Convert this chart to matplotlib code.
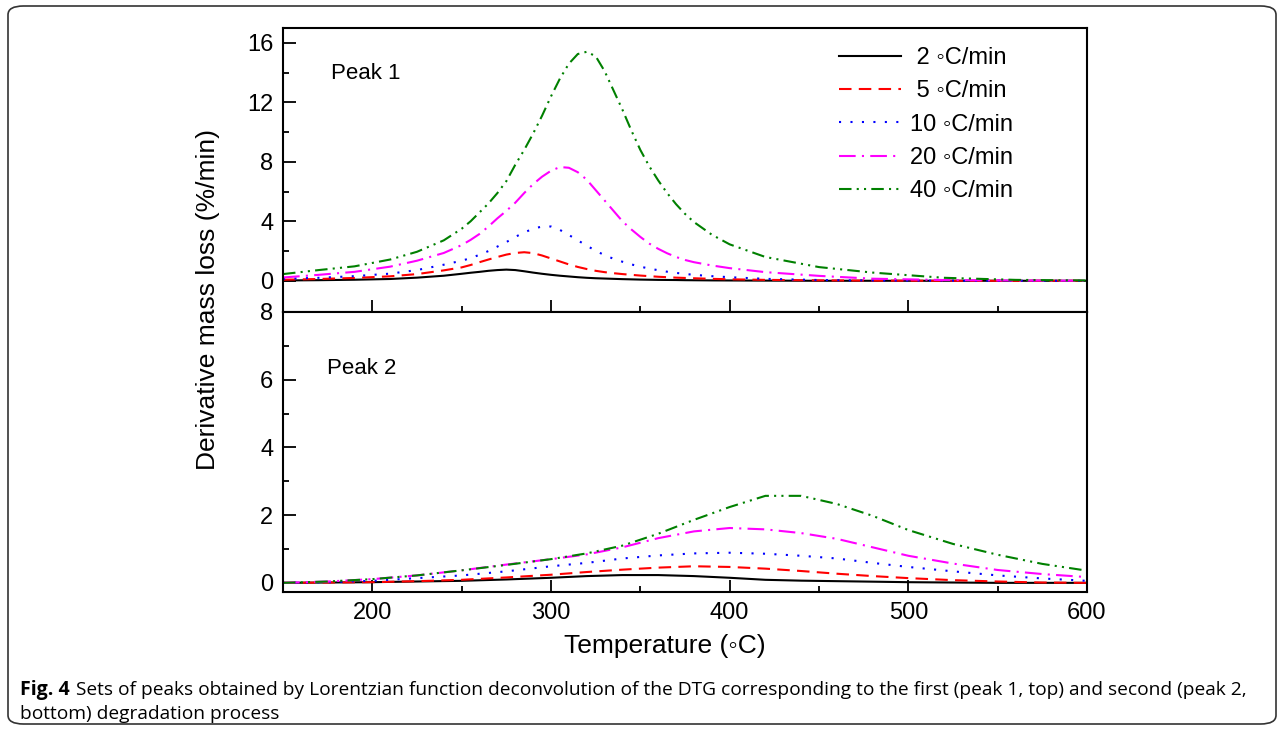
from matplotlib import pyplot as plt
from matplotlib.patches import FancyBboxPatch

# temperature grid (deg C) for each panel
temp_top = [150, 170, 190, 210, 225, 240,
            250, 255, 260, 265, 270, 275, 280, 285, 290, 295, 300, 305, 310, 315,
            320, 325, 330, 335, 340, 345, 350, 355, 360, 365, 370, 375, 380,
            390, 400, 420, 450, 480, 520, 560, 600]
temp_bottom = [150, 175, 200, 225, 250, 275, 300, 320, 340, 360, 380, 400, 420, 440,
               460, 480, 500, 525, 550, 575, 600]

# peak 1 (top panel)
p1_2 = [0.02, 0.04, 0.07, 0.12, 0.21, 0.34,
        0.47, 0.54, 0.60, 0.67, 0.72, 0.75, 0.72, 0.64, 0.55, 0.47, 0.40, 0.34, 0.29, 0.24,
        0.20, 0.17, 0.15, 0.13, 0.11, 0.095, 0.08, 0.07, 0.06, 0.055, 0.05, 0.04, 0.035,
        0.025, 0.02, 0.01, 0.0, 0.0, 0.0, 0.0, 0.0]
p1_5 = [0.07, 0.12, 0.19, 0.30, 0.45, 0.70,
        0.90, 1.06, 1.25, 1.43, 1.60, 1.76, 1.87, 1.92, 1.86, 1.70, 1.50, 1.30, 1.10, 0.93,
        0.79, 0.67, 0.58, 0.51, 0.45, 0.40, 0.35, 0.31, 0.27, 0.24, 0.21, 0.19, 0.17,
        0.13, 0.10, 0.06, 0.03, 0.01, 0.0, 0.0, 0.0]
p1_10 = [0.13, 0.20, 0.31, 0.48, 0.72, 1.08,
         1.35, 1.52, 1.75, 2.00, 2.30, 2.60, 2.95, 3.25, 3.50, 3.65, 3.65, 3.42, 3.08, 2.72,
         2.36, 2.02, 1.72, 1.48, 1.28, 1.10, 0.95, 0.82, 0.71, 0.61, 0.53, 0.46, 0.40,
         0.31, 0.24, 0.13, 0.05, 0.02, 0.01, 0.0, 0.0]
p1_20 = [0.22, 0.40, 0.60, 0.95, 1.35, 1.87,
         2.40, 2.75, 3.15, 3.65, 4.20, 4.70, 5.25, 5.90, 6.50, 7.00, 7.40, 7.65, 7.60, 7.30,
         6.80, 6.10, 5.40, 4.70, 4.00, 3.45, 2.95, 2.50, 2.15, 1.85, 1.60, 1.40, 1.25,
         1.03, 0.85, 0.58, 0.33, 0.14, 0.05, 0.02, 0.0]
p1_40 = [0.45, 0.72, 0.97, 1.43, 1.95, 2.72,
         3.50, 4.00, 4.60, 5.20, 5.90, 6.70, 7.80, 8.80, 9.90, 11.1, 12.4, 13.6, 14.6, 15.25,
         15.4, 15.1, 14.1, 12.8, 11.5, 10.1, 8.80, 7.70, 6.75, 5.90, 5.15, 4.50, 3.95,
         3.10, 2.45, 1.60, 0.92, 0.55, 0.20, 0.06, 0.02]

# peak 2 (bottom panel)
p2_2 = [0.0, 0.01, 0.02, 0.04, 0.06, 0.10, 0.15, 0.20, 0.23, 0.23, 0.20, 0.15, 0.09, 0.065,
        0.05, 0.035, 0.02, 0.01, 0.0, 0.0, 0.0]
p2_5 = [0.0, 0.01, 0.02, 0.05, 0.09, 0.16, 0.24, 0.32, 0.39, 0.45, 0.49, 0.47, 0.42, 0.35,
        0.27, 0.20, 0.14, 0.08, 0.04, 0.01, 0.0]
p2_10 = [0.0, 0.02, 0.06, 0.14, 0.22, 0.34, 0.49, 0.59, 0.72, 0.81, 0.87, 0.89, 0.86, 0.80,
         0.72, 0.59, 0.47, 0.34, 0.22, 0.13, 0.06]
p2_20 = [0.0, 0.04, 0.11, 0.22, 0.37, 0.54, 0.70, 0.84, 1.05, 1.32, 1.52, 1.62, 1.58, 1.47,
         1.30, 1.05, 0.80, 0.57, 0.38, 0.26, 0.17]
p2_40 = [0.0, 0.04, 0.11, 0.22, 0.37, 0.53, 0.70, 0.87, 1.10, 1.45, 1.86, 2.24, 2.57, 2.57,
         2.33, 1.98, 1.56, 1.15, 0.83, 0.56, 0.36]

labels = [' 2 \u25e6C/min', ' 5 \u25e6C/min', '10 \u25e6C/min', '20 \u25e6C/min', '40 \u25e6C/min']
colors = ['black', '#ff0000', '#0000ff', '#ff00ff', '#008000']
styles = ['-', (0, (6, 3.5)), (0, (1, 4.5)), (0, (8, 3, 1, 3)), (0, (6, 2.5, 1, 2.5, 1, 2.5))]

plt.rcParams['font.family'] = ['Liberation Sans', 'DejaVu Sans']


def style_axes(ax):
    for s in ax.spines.values():
        s.set_linewidth(1.5)
    ax.tick_params(which='both', direction='in', width=1.3, labelsize=17, pad=7)
    ax.tick_params(which='major', length=9)
    ax.tick_params(which='minor', length=4.5)
    ax.set_xlim(150, 600)
    ax.set_xticks([200, 300, 400, 500, 600])
    ax.set_xticks([250, 350, 450, 550], minor=True)


def main():
    fig = plt.figure(figsize=(12.84, 7.32), dpi=100)

    # rounded frame around the whole figure
    frame = FancyBboxPatch((8 / 1284, 8 / 732), 1268 / 1284, 718 / 732,
                           boxstyle='round,pad=0,rounding_size=0.012',
                           transform=fig.transFigure, fill=False,
                           edgecolor='#333333', linewidth=1.2)
    fig.patches.append(frame)

    ax1 = fig.add_axes([283 / 1284, 1 - 312 / 732, 804 / 1284, 284 / 732])
    ax2 = fig.add_axes([283 / 1284, 1 - 592 / 732, 804 / 1284, 280 / 732])

    top = [p1_2, p1_5, p1_10, p1_20, p1_40]
    bottom = [p2_2, p2_5, p2_10, p2_20, p2_40]
    for i in range(5):
        ax1.plot(temp_top, top[i], color=colors[i], linestyle=styles[i], lw=1.5, label=labels[i])
        ax2.plot(temp_bottom, bottom[i], color=colors[i], linestyle=styles[i], lw=1.5)

    style_axes(ax1)
    ax1.set_ylim(-2.1, 17.0)
    ax1.set_yticks([0, 4, 8, 12, 16])
    ax1.set_yticks([2, 6, 10, 14], minor=True)
    ax1.tick_params(axis='x', labelbottom=False)
    ax1.text(0.06, 0.82, 'Peak 1', transform=ax1.transAxes, fontsize=16)
    ax1.legend(loc='upper left', bbox_to_anchor=(0.677, 0.975), frameon=False, fontsize=17,
               handlelength=2.6, handletextpad=0.4, labelspacing=0.48, borderpad=0)

    style_axes(ax2)
    ax2.set_ylim(-0.27, 8)
    ax2.set_yticks([0, 2, 4, 6, 8])
    ax2.set_yticks([1, 3, 5, 7], minor=True)
    ax2.text(0.055, 0.78, 'Peak 2', transform=ax2.transAxes, fontsize=16)

    fig.text(208 / 1284, 1 - 300 / 732, 'Derivative mass loss (%/min)', rotation=90,
             ha='center', va='center', fontsize=19)
    fig.text(665 / 1284, 1 - 646 / 732, 'Temperature (\u25e6C)', ha='center', va='center',
             fontsize=19)

    # caption
    cap = 'Sets of peaks obtained by Lorentzian function deconvolution of the DTG corresponding to the first (peak 1, top) and second (peak 2,'
    fig.text(20 / 1284, 1 - 690 / 732, 'Fig. 4', fontsize=14, fontweight='bold',
             family='Open Sans', va='center')
    fig.text(76 / 1284, 1 - 690 / 732, cap, fontsize=13.8, family='Open Sans', va='center')
    fig.text(20 / 1284, 1 - 714 / 732, 'bottom) degradation process', fontsize=13.8,
             family='Open Sans', va='center')

    fig.savefig('out.png', dpi=100)


main()
